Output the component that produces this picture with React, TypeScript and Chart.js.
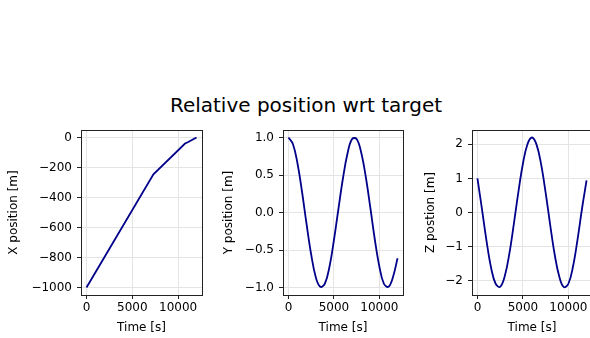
import React, { useEffect, useRef } from 'react';
import { Chart, registerables } from 'chart.js';

Chart.register(...registerables);

const FONT = 'DejaVu Sans';

// X position (piecewise almost-linear approach)
const timeX = [0, 7300, 10750, 11100, 12000];
const posX = [-1000, -245, -40, -30, 0];

// Y / Z position samples (every 500 s)
const timeYZ = [
  0, 500, 1000, 1500, 2000, 2500, 3000, 3500, 4000, 4500, 5000, 5500, 6000,
  6500, 7000, 7500, 8000, 8500, 9000, 9500, 10000, 10500, 11000, 11500, 12000,
];
const posY = [
  1.0, 0.91, 0.65, 0.27, -0.16, -0.56, -0.86, -0.99, -0.95, -0.73, -0.37, 0.05,
  0.46, 0.79, 0.98, 0.98, 0.8, 0.48, 0.07, -0.36, -0.72, -0.95, -0.99, -0.86, -0.61,
];
const posZ = [
  1.0, 0.09, -0.84, -1.62, -2.09, -2.18, -1.87, -1.22, -0.34, 0.6, 1.43, 2.0,
  2.2, 1.99, 1.42, 0.58, -0.36, -1.24, -1.88, -2.19, -2.09, -1.6, -0.81, 0.11, 0.94,
];

const xTicks = [0, 5000, 10000];
const yTicksX = [-1000, -800, -600, -400, -200, 0];
const yTicksY = [-1.0, -0.5, 0.0, 0.5, 1.0];
const yTicksZ = [-2, -1, 0, 1, 2];

const fmt = (v: number, d: number) => {
  const s = Math.abs(v).toFixed(d);
  return v < 0 ? '\u2212' + s : s;
};

const framePlugin = {
  id: 'frame',
  afterDraw(chart: any) {
    const { ctx, chartArea: a } = chart;
    ctx.save();
    ctx.strokeStyle = '#222';
    ctx.lineWidth = 1;
    ctx.strokeRect(Math.round(a.left) + 0.5, Math.round(a.top) + 0.5, Math.round(a.right - a.left), Math.round(a.bottom - a.top));
    ctx.restore();
  },
};

type PanelProps = {
  left: number;
  width: number;
  yAxisWidth: number;
  padRight: number;
  yTitle: string;
  yTitlePad: number;
  times: number[];
  values: number[];
  ymin: number;
  ymax: number;
  yTicks: number[];
  decimals: number;
  tension: number;
};

function Panel(p: PanelProps) {
  const ref = useRef<HTMLCanvasElement | null>(null);
  useEffect(() => {
    if (!ref.current) return;
    const tickFont = { family: FONT, size: 12 };
    const chart = new Chart(ref.current, {
      type: 'line',
      data: {
        datasets: [
          {
            data: p.times.map((t, i) => ({ x: t, y: p.values[i] })),
            borderColor: '#00008b',
            borderWidth: 1.8,
            pointRadius: 0,
            tension: p.tension,
            fill: false,
          },
        ],
      },
      options: {
        animation: false,
        responsive: false,
        events: [],
        layout: { padding: { left: 0, right: p.padRight, top: 130, bottom: 0 } },
        plugins: { legend: { display: false }, tooltip: { enabled: false }, title: { display: false } },
        scales: {
          x: {
            type: 'linear',
            min: -600,
            max: 12600,
            afterBuildTicks: (a: any) => {
              a.ticks = xTicks.map((v) => ({ value: v }));
            },
            afterFit: (a: any) => {
              a.height = 43;
            },
            grid: { color: '#e4e4e4', lineWidth: 1, tickLength: 4, tickColor: '#222', tickWidth: 1 },
            border: { display: false },
            ticks: {
              padding: 2,
              color: '#000',
              font: tickFont,
              maxRotation: 0,
              autoSkip: false,
              callback: (v: any) => fmt(Number(v), 0),
            },
            title: { display: true, text: 'Time [s]', color: '#000', font: tickFont, padding: { top: 0, bottom: 2.5 } },
          },
          y: {
            type: 'linear',
            min: p.ymin,
            max: p.ymax,
            afterBuildTicks: (a: any) => {
              a.ticks = p.yTicks.map((v) => ({ value: v }));
            },
            afterFit: (a: any) => {
              a.width = p.yAxisWidth;
            },
            grid: { color: '#e4e4e4', lineWidth: 1, tickLength: 4, tickColor: '#222', tickWidth: 1 },
            border: { display: false },
            ticks: {
              padding: 5,
              color: '#000',
              font: tickFont,
              autoSkip: false,
              callback: (v: any) => fmt(Number(v), p.decimals),
            },
            title: { display: true, text: p.yTitle, color: '#000', font: tickFont, padding: { top: p.yTitlePad, bottom: 0 } },
          },
        },
      } as any,
      plugins: [framePlugin],
    });
    return () => chart.destroy();
  }, []);
  return (
    <canvas
      ref={ref}
      width={p.width}
      height={338}
      style={{ position: 'absolute', left: p.left, top: 0, width: p.width, height: 338 }}
    />
  );
}

export default function App() {
  return (
    <div
      style={{
        position: 'absolute',
        left: 0,
        top: 0,
        width: 590,
        height: 338,
        overflow: 'hidden',
        background: '#fff',
      }}
    >
      <div
        style={{
          position: 'absolute',
          left: 0,
          top: 95,
          width: 612,
          textAlign: 'center',
          fontFamily: FONT,
          fontSize: 20,
          lineHeight: '20px',
          color: '#000',
          whiteSpace: 'nowrap',
        }}
      >
        Relative position wrt target
      </div>
      <Panel
        left={0}
        width={210}
        yAxisWidth={81}
        padRight={8}
        yTitle="X position [m]"
        yTitlePad={7}
        times={timeX}
        values={posX}
        ymin={-1050}
        ymax={50}
        yTicks={yTicksX}
        decimals={0}
        tension={0}
      />
      <Panel
        left={210}
        width={200}
        yAxisWidth={73}
        padRight={7}
        yTitle="Y position [m]"
        yTitlePad={11.5}
        times={timeYZ}
        values={posY}
        ymin={-1.1}
        ymax={1.1}
        yTicks={yTicksY}
        decimals={1}
        tension={0.4}
      />
      <Panel
        left={410}
        width={190}
        yAxisWidth={62}
        padRight={8}
        yTitle="Z postion [m]"
        yTitlePad={13.5}
        times={timeYZ}
        values={posZ}
        ymin={-2.42}
        ymax={2.42}
        yTicks={yTicksZ}
        decimals={0}
        tension={0.4}
      />
    </div>
  );
}
